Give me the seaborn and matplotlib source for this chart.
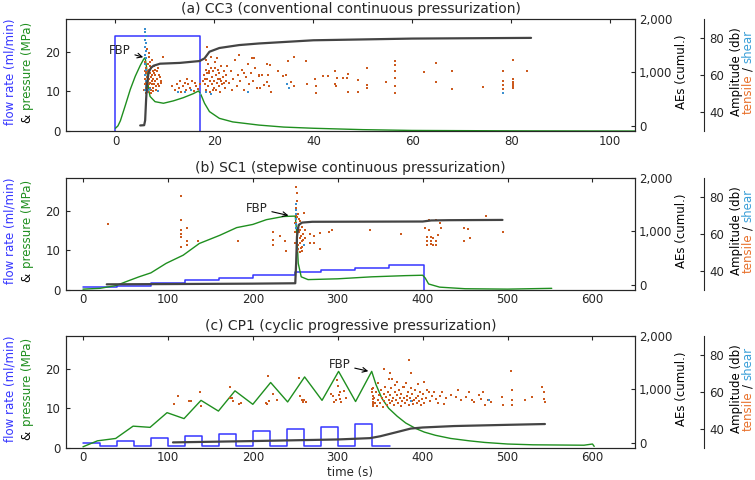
import matplotlib
matplotlib.use("Agg")
import matplotlib.pyplot as plt
import matplotlib.ticker as mticker
import seaborn as sns

# ---------------- data ----------------
# (a) CC3 - conventional continuous
cc3_flow_t = [0, 0, 17]
cc3_flow_q = [0, 24, 0]
cc3_pres_t = [0, 0.5, 1, 2, 3, 4, 5, 5.7, 6.0, 6.3, 6.7, 7.0, 8.0, 9.7, 11.7, 13.7, 15.7,
              16.8, 17.3, 18.0, 19.0, 21.0, 23.7, 29, 34, 40, 50, 60, 80, 105]
cc3_pres_p = [0.7, 1.3, 2.6, 6.5, 10.5, 13.8, 16.5, 18.1, 18.5, 15.9, 10.4, 8.7, 7.4, 7.0, 7.6, 8.4, 9.4,
              10.1, 9.1, 7.0, 4.9, 3.2, 2.3, 1.5, 1.0, 0.7, 0.35, 0.15, 0.05, 0.0]
cc3_ae_t = [5.0, 5.8, 6.0, 6.2, 6.4, 6.7, 7.2, 7.7, 9, 13, 17, 18, 19, 21, 25, 29, 40, 60, 84]
cc3_ae_n = [5, 10, 100, 500, 800, 1000, 1090, 1127, 1165, 1180, 1215, 1265, 1390, 1460, 1515, 1545, 1605, 1637, 1650]
cc3_tensile = [
    (5.8, 52), (5.9, 55), (6.0, 58), (6.1, 53), (6.1, 61), (6.2, 56), (6.2, 64), (6.3, 51), (6.3, 59), (6.4, 54),
    (6.4, 62), (6.5, 57), (6.5, 66), (6.6, 52), (6.6, 60), (6.7, 55), (6.7, 63), (6.8, 58), (6.8, 70), (6.9, 53),
    (6.9, 61), (7.0, 56), (7.0, 67), (7.1, 59), (7.1, 52), (7.2, 64), (7.3, 55), (7.3, 60), (7.4, 57), (7.5, 62),
    (7.5, 53), (7.6, 58), (7.7, 65), (7.8, 55), (7.9, 60), (8.0, 57), (8.0, 63), (8.2, 52), (8.3, 62), (8.4, 58),
    (8.5, 55), (8.7, 54), (8.8, 60), (9.0, 59), (9.2, 56), (9.3, 57), (9.7, 70), (6.3, 74), (6.7, 72), (6.0, 67),
    (5.9, 62), (6.2, 50.5), (6.5, 51), (7.2, 50.5), (7.6, 51.5), (8.1, 54), (6.9, 65), (7.8, 61), (8.6, 64), (7.4, 68),
    (11.5, 54), (12.0, 52), (12.5, 55), (12.8, 53), (13.0, 57), (13.3, 51), (13.6, 54), (14.0, 56), (14.3, 52),
    (14.5, 58), (14.7, 55), (15.0, 53), (15.4, 57), (15.8, 51.5), (16.0, 56), (16.2, 54), (16.6, 52.5), (17.0, 55),
    (17.6, 57), (17.8, 60), (18.0, 55), (18.1, 58), (18.2, 63), (18.3, 52), (18.4, 68), (18.5, 58), (18.6, 75),
    (18.6, 61), (18.7, 66), (18.8, 54), (18.9, 62), (19.0, 61), (19.1, 57), (19.2, 51), (19.3, 64), (19.4, 70),
    (19.5, 55), (19.6, 59), (19.7, 52), (19.8, 62), (19.9, 53), (20.0, 57), (20.1, 67), (20.2, 64), (20.3, 60),
    (20.4, 52), (20.5, 56), (20.6, 69), (20.7, 63), (20.8, 58), (20.9, 54), (21.0, 61), (21.1, 58), (21.2, 51),
    (21.3, 57), (21.4, 65), (21.6, 55), (21.8, 59), (21.9, 56), (22.0, 62), (22.1, 53), (22.3, 57), (22.4, 60),
    (22.6, 65), (23.0, 56), (23.4, 62), (23.5, 52), (23.8, 58), (24.2, 68), (24.5, 54), (24.8, 60), (25.0, 71),
    (25.2, 57), (25.6, 63), (26.0, 52), (26.0, 61), (26.3, 59), (26.7, 66), (27.0, 55), (27.4, 61), (27.5, 69),
    (27.8, 57), (28.2, 64), (28.6, 53), (29.0, 60), (28, 69), (29, 59.5), (29.7, 60), (29.3, 53), (30.7, 66),
    (31.3, 65.5), (30.8, 60), (30.7, 56.5), (31, 54), (31.5, 51), (30, 54.5), (32.9, 62.5), (33.9, 59.5),
    (34.5, 60), (34.9, 67.5), (36, 69.5), (35.5, 56.5), (36, 54), (38.5, 67.5), (38.8, 55.5), (40.3, 58),
    (40.5, 54), (40.5, 50.5), (42, 59.5), (43, 59.5), (44.3, 62.5), (44.7, 58.5), (44.5, 54), (44.3, 55.5),
    (46, 58.5), (46.7, 58.5), (47.1, 60.5), (46.9, 51), (49, 57.5), (49, 51), (50.9, 64), (50.9, 54.5),
    (50.9, 53), (54.7, 56.5), (56.5, 67.5), (56.5, 65.5), (56.5, 62), (56.5, 58.5), (56.5, 54), (56.5, 50.5),
    (62.3, 61.5), (64.7, 66.5), (64.7, 56.5), (68.1, 62.5), (68.1, 52.5), (74.3, 53.5), (78.3, 62.5), (78.3, 57),
    (78.3, 54.5), (78.3, 52.5), (80.3, 68), (80.3, 58), (80.3, 56.5), (80.3, 55), (80.3, 54), (80.3, 53), (83.1, 62),
]
cc3_shear = [
    (6.0, 85), (6.0, 83), (6.1, 81), (6.0, 79), (6.1, 77), (6.0, 75), (6.1, 73), (6.0, 71), (6.1, 69), (6.0, 66),
    (6.1, 63), (6.0, 60), (6.2, 57), (6.1, 54), (6.0, 52), (6.3, 51), (6.6, 52), (7.0, 52.5), (6.4, 56), (8.5, 51.5),
    (12.7, 51), (14.0, 51), (15.3, 52), (17.0, 50), (18.3, 51), (19.3, 50), (26.7, 51),
    (34.7, 55.5), (35, 53), (78.3, 50.5),
]

# (b) SC1 - stepwise continuous
sc1_flow_t = [0, 40, 80, 120, 160, 200, 250, 280, 320, 360, 402]
sc1_flow_q = [0.7, 1.1, 1.8, 2.5, 3.1, 3.7, 4.4, 5.0, 5.6, 6.2, 0]
sc1_pres_t = [0, 20, 39, 51, 66, 80, 98, 118, 137, 161, 181, 200, 216, 236, 250, 251.5, 253.5, 257, 265,
              300, 340, 380, 400, 403, 407, 420, 450, 500, 552]
sc1_pres_p = [0.2, 0.4, 1.1, 2.1, 3.3, 4.3, 6.7, 8.75, 11.7, 13.75, 15.7, 16.5, 17.7, 18.5, 18.6, 15, 6.7, 3.3, 2.6,
              2.8, 3.3, 3.6, 3.7, 3.0, 1.5, 0.7, 0.3, 0.2, 0.4]
sc1_ae_t = [28, 100, 200, 250, 251, 252, 254, 258, 270, 400, 410, 430, 494]
sc1_ae_n = [5, 10, 18, 25, 400, 900, 1120, 1165, 1180, 1185, 1205, 1210, 1215]
sc1_tensile = [
    (29.6, 65.5), (115, 80.5), (115, 67.5), (115, 62), (115, 60), (115, 58.5), (122, 63.5), (122, 56), (122, 54),
    (115, 53), (136, 56), (182, 56), (224, 61), (224, 57), (224, 54), (232, 59), (238, 56.5), (239, 51),
    (250.5, 70), (251, 66), (251.5, 63), (252, 60), (252.5, 57), (253, 54), (253.5, 52), (254, 65), (254.5, 61),
    (255, 58), (255.5, 55), (256, 62), (256.5, 52.5), (257, 59), (257.5, 56), (258, 64), (258.5, 53), (259, 60),
    (259.5, 57), (260, 54), (260.6, 71.5), (261, 62), (262, 58), (250, 61), (250, 55), (249.5, 66), (252, 69),
    (253, 71), (254.5, 68), (256, 50.5), (258, 51), (255, 67), (252, 51), (251, 74), (251.5, 78), (252, 82),
    (251, 85.5), (267.6, 60), (271.6, 59), (279.5, 60.5), (279.5, 52), (289.3, 61), (293.2, 62), (267.6, 55),
    (272.4, 55), (338.5, 62), (375, 60), (407.3, 67.5), (416.3, 67.5), (421, 66), (421.8, 63.5), (403.3, 63.5),
    (407.3, 62), (417.9, 59.5), (405, 58.5), (405, 56.5), (405, 54), (409.6, 58.5), (409.6, 56.5), (409.6, 54.5),
    (412, 58), (412, 54), (416.3, 56), (416.3, 54), (448.5, 63.5), (453, 62.5), (448.5, 56.5), (456, 58),
    (474.5, 69.5), (494.2, 61),
]
sc1_shear = [(251, 76), (251, 73), (251, 71), (251, 68), (251, 65.5), (251.5, 58), (251.5, 55), (251.5, 52),
             (260.6, 54), (250.5, 63)]

# (c) CP1 - cyclic progressive
cp1_flow_t = [0, 20, 40, 60, 80, 100, 120, 140, 160, 180, 200, 220, 240, 260, 280, 300, 320, 340, 362]
cp1_flow_q = [1.2, 0.6, 1.8, 0.6, 2.4, 0.6, 3.0, 0.6, 3.6, 0.6, 4.2, 0.6, 4.8, 0.6, 5.4, 0.6, 6.0, 0.6, 0.6]
cp1_pres_t = [0, 17, 38.5, 59, 79, 99, 119, 139, 159.5, 179, 200, 221, 241, 261, 281.5, 301, 321, 340, 345, 352,
              360, 370, 380, 392, 402, 415, 433, 455, 473, 500, 530, 590, 600, 602]
cp1_pres_p = [0.3, 1.8, 2.4, 5.5, 5.2, 8.9, 7.4, 12.0, 9.3, 14.4, 11.0, 16.5, 11.6, 17.9, 12.0, 19.3, 11.7, 19.3,
              16.0, 12.5, 10.0, 8.0, 6.3, 4.9, 4.0, 3.2, 2.4, 1.8, 1.4, 1.0, 0.8, 0.7, 1.0, 0.4]
cp1_ae_t = [106, 200, 300, 338, 350, 370, 386, 400, 437, 453, 500, 544]
cp1_ae_n = [5, 30, 60, 85, 120, 200, 265, 285, 312, 318, 335, 350]
cp1_tensile = [
    (107, 53.7), (111.8, 57.8), (124.4, 55), (127.6, 55), (137.5, 60), (138.7, 52.7), (173, 62.6), (173, 56.7),
    (175.3, 57), (176.2, 55), (183.7, 53.7), (184, 53.7), (186.5, 54.2), (217.8, 68.8), (215, 54.4), (216.2, 53.7),
    (219, 55.2), (223.8, 58.8), (228.1, 55.7), (254.7, 67.7), (255.9, 57.8), (257.5, 55.7), (258.7, 54.6),
    (260.7, 55.9), (262.7, 54.6), (292.4, 59), (294.4, 57.8), (297.6, 55.9), (299.6, 66.3), (300.4, 63.3),
    (302.4, 60.1), (303.2, 56.5), (304.4, 54.6), (307.1, 60.5), (310.3, 57), (301, 58.5), (296, 54.5),
    (340, 61.8), (340, 60), (341, 58), (341, 56.5), (341.5, 54.6), (342, 53.7), (342, 52.5),
    (342, 62), (343, 57), (344, 54), (345, 60), (346, 52.5), (347, 65), (348, 56), (349, 58.5), (350, 54),
    (351, 61), (352, 57), (353, 52), (354, 72.5), (354, 59), (355, 55), (356, 63), (357, 57.5), (358, 53),
    (359, 60), (360, 67), (360, 56), (361, 54), (362, 70.5), (362, 58.5), (363, 62), (364, 55), (364, 67),
    (365, 57), (366, 53), (367, 60), (368, 64), (369, 56), (370, 58.5), (370, 65.4), (371, 54), (372, 61),
    (373, 57), (374, 52.5), (375, 59), (376, 55), (377, 62.5), (378, 57), (378, 62.6), (379, 54), (380, 65),
    (381, 58), (382, 55.5), (383, 60), (384, 77), (384, 53), (385, 57), (386, 70), (386, 62), (387, 55),
    (388, 59), (389, 53.5), (390, 56), (391, 61), (392, 57), (393, 54), (394, 64.5), (395, 58), (396, 55),
    (397, 60), (398, 53), (399, 56.5), (400, 59), (401.5, 65.5), (402, 54), (404, 57), (405, 61), (407.5, 60),
    (409, 55), (411, 58), (413.4, 60), (415.4, 56.5), (418, 54), (420, 58), (423.3, 60), (425.3, 53.8),
    (428, 57), (433.3, 58.3), (439.2, 57.4), (441.2, 61), (445.2, 55.7), (451.1, 57.4), (455.1, 60),
    (457.9, 55.7), (461, 54.7), (465.8, 58.3), (469, 56.5), (471, 60), (473, 52.9), (477, 55.7), (481, 54.7),
    (493.6, 57.4), (494.8, 52.9), (503.9, 71.2), (504.7, 61), (504.7, 55.7), (504.7, 52.9), (520.6, 55.7),
    (528.5, 57.4), (540.4, 62.6), (542.4, 60), (542.4, 56.5), (544.4, 54.7),
]
cp1_shear = [(385.7, 55), (477.7, 55.9)]

titles = ["(a) CC3 (conventional continuous pressurization)",
          "(b) SC1 (stepwise continuous pressurization)",
          "(c) CP1 (cyclic progressive pressurization)"]
fbp_points = [(5.6, 18.6), (242, 18.75), (336, 19.35)]
fbp_text_at = [(3.0, 20.3), (217, 20.6), (314.6, 21.0)]

# ---------------- style ----------------
FLOW = "#3535ff"
PRES = "#1f8f1f"
AE = "#444444"
TENS = "#cc5a1e"
SHEAR = "#3a8fd0"
FS = 8.5

sns.set_style("white")
plt.rcParams["font.family"] = ["DejaVu Sans"]

fig = plt.figure(figsize=(7.55, 4.8), dpi=100)
LEFT, WIDTH, HEIGHT = 0.0874, 0.7536, 0.234
bottoms = [0.727, 0.396, 0.0667]


def stacked_label(x, yc, parts, gap_px=4):
    """rotated multi-colour label, centred on yc (figure coords)"""
    renderer = fig.canvas.get_renderer()
    texts = [fig.text(x, 0, s, color=c, rotation=90, ha="center", va="bottom", fontsize=FS)
             for s, c in parts]
    hs = [t.get_window_extent(renderer).height / fig.bbox.height for t in texts]
    gap = gap_px / fig.bbox.height
    y = yc - (sum(hs) + gap * (len(hs) - 1)) / 2
    for t, h in zip(texts, hs):
        t.set_y(y)
        y += h + gap


def draw_panel(i, xlim, xticks, flow, pres, ae, tensile, shear):
    ax = fig.add_axes([LEFT, bottoms[i], WIDTH, HEIGHT])
    ax_amp = ax.twinx()
    ax_ae = ax.twinx()

    sns.lineplot(x=flow[0], y=flow[1], ax=ax, color=FLOW, lw=1.1, estimator=None, sort=False,
                 drawstyle="steps-post", legend=False)
    sns.lineplot(x=pres[0], y=pres[1], ax=ax, color=PRES, lw=1.0, estimator=None, sort=False, legend=False)

    tt, ta = zip(*tensile)
    sns.scatterplot(x=list(tt), y=list(ta), ax=ax_amp, color=TENS, marker="s", s=4, linewidth=0, legend=False)
    st, sa = zip(*shear)
    sns.scatterplot(x=list(st), y=list(sa), ax=ax_amp, color=SHEAR, marker="s", s=4, linewidth=0, legend=False)

    sns.lineplot(x=ae[0], y=ae[1], ax=ax_ae, color=AE, lw=1.6, estimator=None, sort=False, legend=False)

    ax.set_xlim(*xlim)
    ax.set_xticks(xticks)
    ax.set_ylim(0, 28.3)
    ax.set_yticks([0, 10, 20])
    ax.tick_params(direction="in", top=True, right=False, length=3, labelsize=FS)
    ax.tick_params(axis="x", pad=2.5)
    ax.tick_params(axis="y", pad=4)
    ax.set_title(titles[i], fontsize=10, pad=4)

    ax_ae.set_ylim(-100, 2010)
    ax_ae.set_yticks([0, 1000, 2000])
    ax_ae.yaxis.set_major_formatter(mticker.StrMethodFormatter("{x:,.0f}"))
    ax_ae.tick_params(direction="in", length=3, labelsize=FS, pad=3)

    ax_amp.set_ylim(30, 90.3)
    ax_amp.set_yticks([40, 60, 80])
    ax_amp.spines["right"].set_position(("axes", 1.121))
    for s in ["left", "top", "bottom"]:
        ax_amp.spines[s].set_visible(False)
    ax_amp.tick_params(direction="in", length=3, labelsize=FS, pad=4)

    for a in (ax, ax_ae, ax_amp):
        a.set_xlabel("")
        a.set_ylabel("")

    ax.annotate("FBP", xy=fbp_points[i], xytext=fbp_text_at[i], ha="right", va="center", fontsize=FS,
                arrowprops=dict(arrowstyle="->", color="k", lw=0.8, shrinkA=1, shrinkB=0))

    yc = bottoms[i] + HEIGHT / 2 + 0.006
    stacked_label(0.0132, yc, [("flow rate (ml/min)", FLOW)])
    stacked_label(0.0358, yc, [("&", "k"), ("pressure (MPa)", PRES)])
    stacked_label(0.903, yc, [("AEs (cumul.)", "k")])
    stacked_label(0.975, yc, [("Amplitude (db)", "k")])
    stacked_label(0.991, yc, [("tensile", "#e8702a"), ("/", "k"), ("shear", "#3a9fd8")])
    return ax


draw_panel(0, (-10, 105), [0, 20, 40, 60, 80, 100], (cc3_flow_t, cc3_flow_q), (cc3_pres_t, cc3_pres_p),
           (cc3_ae_t, cc3_ae_n), cc3_tensile, cc3_shear)
draw_panel(1, (-20, 650), [0, 100, 200, 300, 400, 500, 600], (sc1_flow_t, sc1_flow_q), (sc1_pres_t, sc1_pres_p),
           (sc1_ae_t, sc1_ae_n), sc1_tensile, sc1_shear)
draw_panel(2, (-20, 650), [0, 100, 200, 300, 400, 500, 600], (cp1_flow_t, cp1_flow_q),
           (cp1_pres_t, cp1_pres_p), (cp1_ae_t, cp1_ae_n), cp1_tensile, cp1_shear)
fig.text(LEFT + WIDTH / 2, 1 / 480, "time (s)", ha="center", va="bottom", fontsize=FS)

fig.savefig("out.png", dpi=100)
